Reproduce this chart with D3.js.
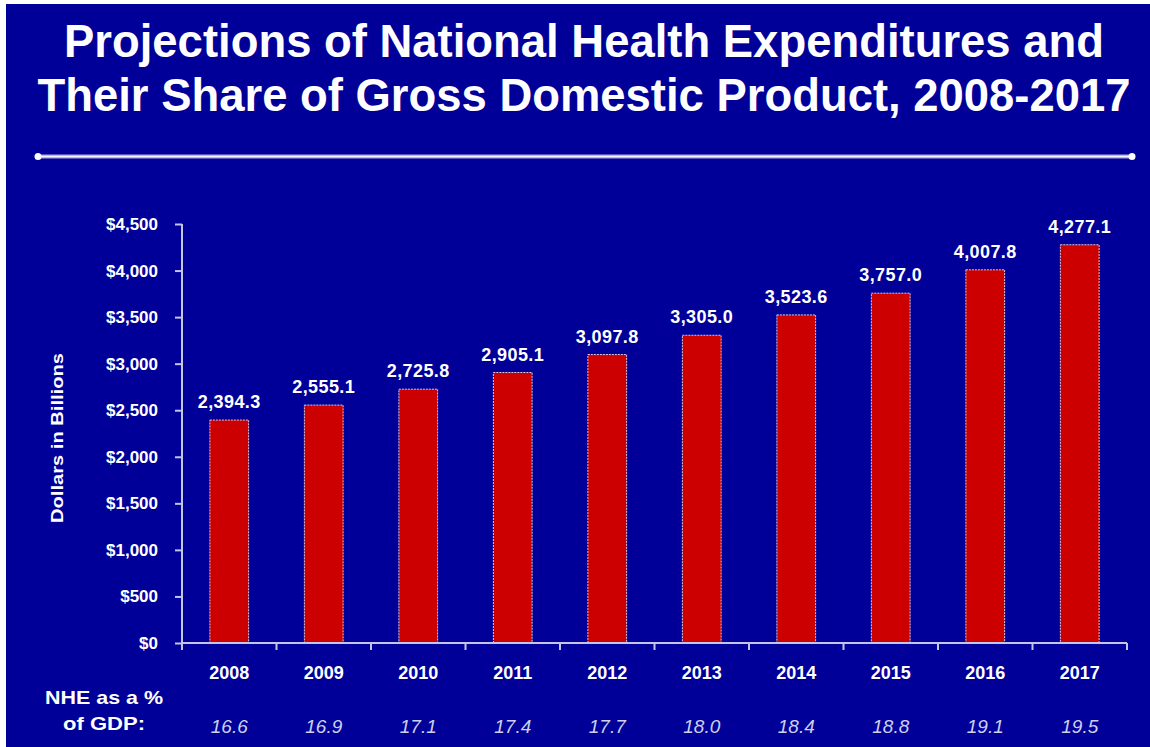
<!DOCTYPE html>
<html>
<head>
<meta charset="utf-8">
<script src="https://cdn.jsdelivr.net/npm/d3@7"></script>
<style>
  html, body { margin: 0; padding: 0; background: #ffffff; }
  svg { display: block; }
  text { font-family: "Liberation Sans", Arial, Helvetica, sans-serif; }
</style>
</head>
<body>
<svg id="chart" width="1150" height="747"></svg>
<script>
// Projected national health expenditures (billions of dollars)
const years = ["2008", "2009", "2010", "2011", "2012", "2013", "2014", "2015", "2016", "2017"];
const spending = [2394.3, 2555.1, 2725.8, 2905.1, 3097.8, 3305.0, 3523.6, 3757.0, 4007.8, 4277.1];
// NHE as a percentage of GDP
const gdpShare = ["16.6", "16.9", "17.1", "17.4", "17.7", "18.0", "18.4", "18.8", "19.1", "19.5"];
const yTicks = [0, 500, 1000, 1500, 2000, 2500, 3000, 3500, 4000, 4500];
const titleLines = [
  "Projections of National Health Expenditures and",
  "Their Share of Gross Domestic Product, 2008-2017"
];

const W = 1150, H = 747;
const bg = "#000099";
const axisColor = "#c4c4e4";

const svg = d3.select("#chart");

// slide background
svg.append("rect").attr("x", 6).attr("y", 4).attr("width", W - 6).attr("height", H - 4).attr("fill", bg);

// title (condensed bold lines)
const title = svg.append("g");
const titleWidths = [1040, 1093];
const titleBase = [57, 111];
titleLines.forEach((t, i) => {
  title.append("text")
    .attr("x", 584)
    .attr("y", titleBase[i])
    .attr("text-anchor", "middle")
    .attr("fill", "#ffffff")
    .attr("font-size", 46)
    .attr("font-weight", "bold")
    .attr("textLength", titleWidths[i])
    .attr("lengthAdjust", "spacingAndGlyphs")
    .text(t);
});

// divider rule under the title
const rule = svg.append("g");
rule.append("line").attr("x1", 38).attr("x2", 1132).attr("y1", 156.5).attr("y2", 156.5)
  .attr("stroke", "#a8a8e0").attr("stroke-width", 4);
rule.append("line").attr("x1", 38).attr("x2", 1132).attr("y1", 156.5).attr("y2", 156.5)
  .attr("stroke", "#f4f4ff").attr("stroke-width", 1.6);
[38, 1132].forEach(cx => {
  rule.append("circle").attr("cx", cx).attr("cy", 156.5).attr("r", 3.5).attr("fill", "#ffffff");
});

// scales
const plot = { left: 182, right: 1127, top: 224, bottom: 643 };
const x = d3.scaleBand().domain(years).range([plot.left, plot.right]).padding(0);
const y = d3.scaleLinear().domain([0, 4500]).range([plot.bottom, plot.top]);
const barW = x.bandwidth() * 0.41;

// bars
svg.append("g").selectAll("rect")
  .data(years)
  .join("rect")
  .attr("x", (d) => x(d) + (x.bandwidth() - barW) / 2)
  .attr("y", (d, i) => y(spending[i]))
  .attr("width", barW)
  .attr("height", (d, i) => y(0) - y(spending[i]))
  .attr("fill", "#cc0000")
  .attr("stroke", "#d6c8e0")
  .attr("stroke-width", 1)
  .attr("stroke-dasharray", "2,1");

// value labels
const fmtVal = d3.format(",.1f");
svg.append("g").selectAll("text")
  .data(years)
  .join("text")
  .attr("x", (d) => x(d) + x.bandwidth() / 2)
  .attr("y", (d, i) => y(spending[i]) - 12)
  .attr("text-anchor", "middle")
  .attr("fill", "#ffffff")
  .attr("font-size", 18)
  .attr("font-weight", "bold")
  .attr("letter-spacing", 0.4)
  .text((d, i) => fmtVal(spending[i]));

// y axis
const yAxis = svg.append("g")
  .attr("transform", `translate(${plot.left},0)`)
  .call(d3.axisLeft(y).tickValues(yTicks).tickSize(7).tickPadding(17)
    .tickFormat(d => "$" + d3.format(",")(d)));
yAxis.select(".domain").attr("stroke", axisColor).attr("stroke-width", 2)
  .attr("d", `M0,${plot.top}V${plot.bottom}`);
yAxis.selectAll(".tick line").attr("stroke", axisColor).attr("stroke-width", 2);
yAxis.selectAll(".tick text")
  .attr("fill", "#ffffff")
  .attr("font-size", 17)
  .attr("font-weight", "bold")
  .attr("font-family", "Liberation Sans, Arial, sans-serif");

// x axis: line with ticks at category boundaries
const xAxis = svg.append("g");
xAxis.append("line").attr("x1", plot.left).attr("x2", plot.right)
  .attr("y1", plot.bottom).attr("y2", plot.bottom)
  .attr("stroke", axisColor).attr("stroke-width", 2);
const boundaries = years.map(d => x(d)).concat([plot.right]);
xAxis.selectAll("line.b")
  .data(boundaries)
  .join("line")
  .attr("class", "b")
  .attr("x1", d => d).attr("x2", d => d)
  .attr("y1", plot.bottom).attr("y2", plot.bottom + 7)
  .attr("stroke", axisColor).attr("stroke-width", 2);

// year labels
svg.append("g").selectAll("text")
  .data(years)
  .join("text")
  .attr("x", d => x(d) + x.bandwidth() / 2)
  .attr("y", 679)
  .attr("text-anchor", "middle")
  .attr("fill", "#ffffff")
  .attr("font-size", 18)
  .attr("font-weight", "bold")
  .text(d => d);

// share of GDP row
svg.append("g").selectAll("text")
  .data(years)
  .join("text")
  .attr("x", d => x(d) + x.bandwidth() / 2)
  .attr("y", 733)
  .attr("text-anchor", "middle")
  .attr("fill", "#cfcfee")
  .attr("font-size", 19)
  .attr("font-style", "italic")
  .text((d, i) => gdpShare[i]);

const rowLabel = svg.append("g");
[["NHE as a %", 704, 118], ["of GDP:", 730, 82]].forEach(([t, yy, w]) => {
  rowLabel.append("text")
    .attr("x", 104)
    .attr("y", yy)
    .attr("text-anchor", "middle")
    .attr("fill", "#ffffff")
    .attr("font-size", 19)
    .attr("font-weight", "bold")
    .attr("textLength", w)
    .attr("lengthAdjust", "spacingAndGlyphs")
    .text(t);
});

// y axis title
svg.append("text")
  .attr("transform", "translate(63,438) rotate(-90)")
  .attr("text-anchor", "middle")
  .attr("fill", "#ffffff")
  .attr("font-size", 17)
  .attr("font-weight", "bold")
  .attr("textLength", 170)
  .attr("lengthAdjust", "spacingAndGlyphs")
  .text("Dollars in Billions");
</script>
</body>
</html>
